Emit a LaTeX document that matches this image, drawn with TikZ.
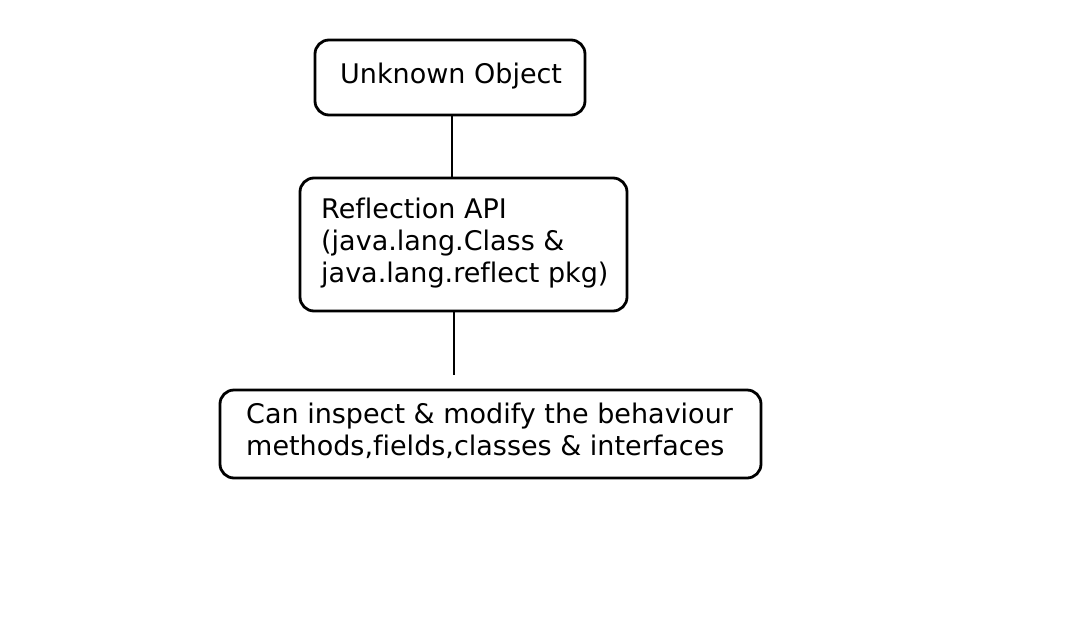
\documentclass[tikz,border=0pt]{standalone}
\usepackage{fontspec}
\setmainfont[Ligatures=NoCommon]{DejaVu Sans}
\begin{document}
\begin{tikzpicture}[x=1pt,y=-1pt,
  box/.style={draw=black, line width=2.8pt, rounded corners=14pt, inner sep=0pt},
  txt/.style={inner sep=0pt, font=\fontsize{27}{32}\selectfont, align=left},
  link/.style={draw=black, line width=2.8pt}]
\useasboundingbox[fill=white] (0,0) rectangle (1068,643);
\node[box, minimum width=270pt, minimum height=75pt] (b1) at (450,77.5) {};
\node[box, minimum width=327pt, minimum height=133pt] (b2) at (463.5,244.5) {};
\node[box, minimum width=541pt, minimum height=88pt] (b3) at (490.5,434) {};
\node[txt, anchor=base west] (t1) at (340,83) {Unknown Object};
\node[txt, anchor=base west] (t2) at (321,282) {Reflection API\\(java.lang.Class \&\\java.lang.reflect pkg)};
\node[txt, anchor=base west] (t3) at (246,455) {Can inspect \& modify the behaviour\\methods,fields,classes \& interfaces};
\coordinate (m1) at (452,0);
\coordinate (e2) at (454,375);
\draw[link] (b1.south -| m1) -- (b2.north -| m1);
\draw[link] (b2.south -| e2) -- (e2);
\end{tikzpicture}
\end{document}
